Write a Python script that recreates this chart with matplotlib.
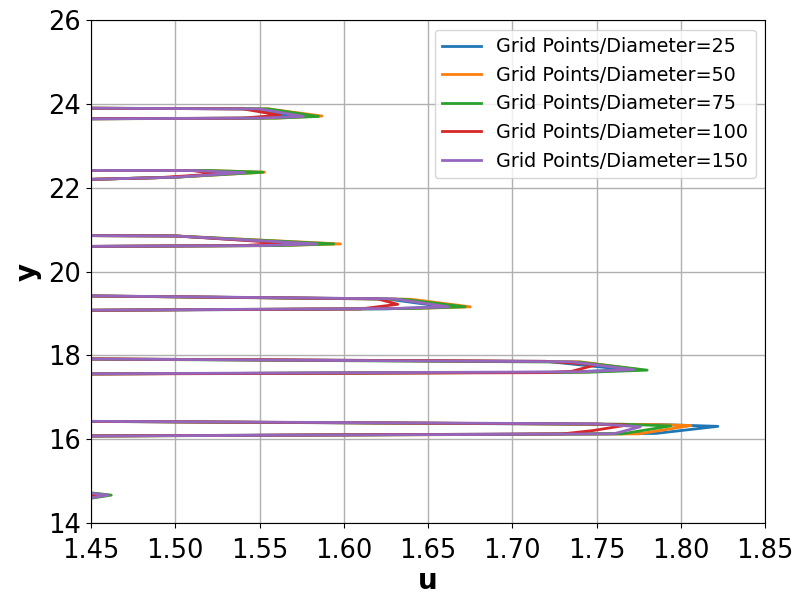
import matplotlib
matplotlib.use("Agg")
import matplotlib.pyplot as plt

# Velocity profiles u(y) for increasing grid resolution
labels = [
    "Grid Points/Diameter=25",
    "Grid Points/Diameter=50",
    "Grid Points/Diameter=75",
    "Grid Points/Diameter=100",
    "Grid Points/Diameter=150",
]
colors = ["#1f77b4", "#ff7f0e", "#2ca02c", "#d62728", "#9467bd"]

u_25 = [1.30, 1.458, 1.30,
        1.30, 1.785, 1.822, 1.790, 1.30,
        1.30, 1.730, 1.768, 1.720, 1.30,
        1.30, 1.625, 1.660, 1.625, 1.30,
        1.30, 1.550, 1.582, 1.500, 1.30,
        1.30, 1.500, 1.540, 1.510, 1.30,
        1.30, 1.550, 1.570, 1.545, 1.30]
y_25 = [13.65, 14.67, 15.40,
        16.055, 16.14, 16.31, 16.35, 16.46,
        17.54, 17.60, 17.66, 17.86, 17.95,
        19.047, 19.11, 19.16, 19.35, 19.48,
        20.573, 20.62, 20.65, 20.85, 20.88,
        22.05, 22.25, 22.36, 22.41, 22.42,
        23.62, 23.66, 23.72, 23.88, 23.92]

u_50 = [1.30, 1.460, 1.30,
        1.30, 1.775, 1.806, 1.780, 1.30,
        1.30, 1.740, 1.776, 1.740, 1.30,
        1.30, 1.640, 1.675, 1.640, 1.30,
        1.30, 1.560, 1.598, 1.500, 1.30,
        1.30, 1.500, 1.553, 1.520, 1.30,
        1.30, 1.560, 1.587, 1.555, 1.30]
y_50 = [13.65, 14.67, 15.40,
        16.055, 16.13, 16.33, 16.355, 16.46,
        17.54, 17.60, 17.66, 17.85, 17.95,
        19.047, 19.12, 19.16, 19.34, 19.48,
        20.573, 20.62, 20.66, 20.85, 20.88,
        22.05, 22.25, 22.37, 22.41, 22.42,
        23.62, 23.66, 23.71, 23.88, 23.92]

u_75 = [1.30, 1.462, 1.30,
        1.30, 1.765, 1.794, 1.765, 1.30,
        1.30, 1.745, 1.780, 1.740, 1.30,
        1.30, 1.640, 1.672, 1.635, 1.30,
        1.30, 1.560, 1.594, 1.500, 1.30,
        1.30, 1.500, 1.552, 1.520, 1.30,
        1.30, 1.560, 1.585, 1.555, 1.30]
y_75 = [13.65, 14.67, 15.40,
        16.055, 16.13, 16.32, 16.36, 16.46,
        17.54, 17.60, 17.65, 17.84, 17.95,
        19.047, 19.12, 19.16, 19.34, 19.48,
        20.573, 20.62, 20.66, 20.85, 20.88,
        22.05, 22.25, 22.37, 22.41, 22.42,
        23.62, 23.66, 23.70, 23.88, 23.92]

u_100 = [1.30, 1.455, 1.30,
         1.30, 1.730, 1.748, 1.768, 1.750, 1.30,
         1.30, 1.720, 1.735, 1.750, 1.720, 1.30,
         1.30, 1.610, 1.632, 1.620, 1.30,
         1.30, 1.540, 1.566, 1.500, 1.30,
         1.30, 1.490, 1.525, 1.510, 1.30,
         1.30, 1.540, 1.562, 1.540, 1.30]
y_100 = [13.65, 14.67, 15.40,
         16.055, 16.13, 16.21, 16.34, 16.365, 16.46,
         17.54, 17.59, 17.62, 17.78, 17.86, 17.95,
         19.047, 19.11, 19.22, 19.35, 19.48,
         20.573, 20.62, 20.68, 20.85, 20.88,
         22.05, 22.24, 22.33, 22.41, 22.42,
         23.62, 23.66, 23.73, 23.88, 23.92]

u_150 = [1.30, 1.460, 1.30,
         1.30, 1.760, 1.776, 1.750, 1.30,
         1.30, 1.740, 1.772, 1.735, 1.30,
         1.30, 1.630, 1.662, 1.630, 1.30,
         1.30, 1.550, 1.584, 1.500, 1.30,
         1.30, 1.500, 1.541, 1.510, 1.30,
         1.30, 1.550, 1.576, 1.550, 1.30]
y_150 = [13.65, 14.67, 15.40,
         16.055, 16.13, 16.30, 16.37, 16.46,
         17.54, 17.61, 17.66, 17.85, 17.95,
         19.047, 19.12, 19.16, 19.35, 19.48,
         20.573, 20.62, 20.66, 20.85, 20.88,
         22.05, 22.25, 22.36, 22.41, 22.42,
         23.62, 23.66, 23.70, 23.88, 23.92]

x_ticks = [1.45, 1.50, 1.55, 1.60, 1.65, 1.70, 1.75, 1.80, 1.85]
y_ticks = [14, 16, 18, 20, 22, 24, 26]

profiles = [(u_25, y_25), (u_50, y_50), (u_75, y_75), (u_100, y_100), (u_150, y_150)]

fig = plt.figure(figsize=(8.02, 6.0), dpi=100)
ax = fig.add_axes([0.1135, 0.128, 0.8405, 0.8387])

for (u, y), lab, c in zip(profiles, labels, colors):
    ax.plot(u, y, color=c, lw=2, label=lab)

ax.set_xlim(1.45, 1.85)
ax.set_ylim(14, 26)
ax.set_xticks(x_ticks)
ax.set_xticklabels([f"{t:.2f}" for t in x_ticks])
ax.set_yticks(y_ticks)
ax.tick_params(labelsize=18.5)
ax.tick_params(axis="x", pad=7)
ax.tick_params(axis="y", pad=4)
ax.set_xlabel("u", fontsize=20, fontweight="bold", labelpad=2)
ax.set_ylabel("y", fontsize=20, fontweight="bold")
ax.grid(True, color="#b0b0b0", lw=1)
ax.legend(loc="upper right", fontsize=13.8)

fig.savefig("out.png", dpi=100)
